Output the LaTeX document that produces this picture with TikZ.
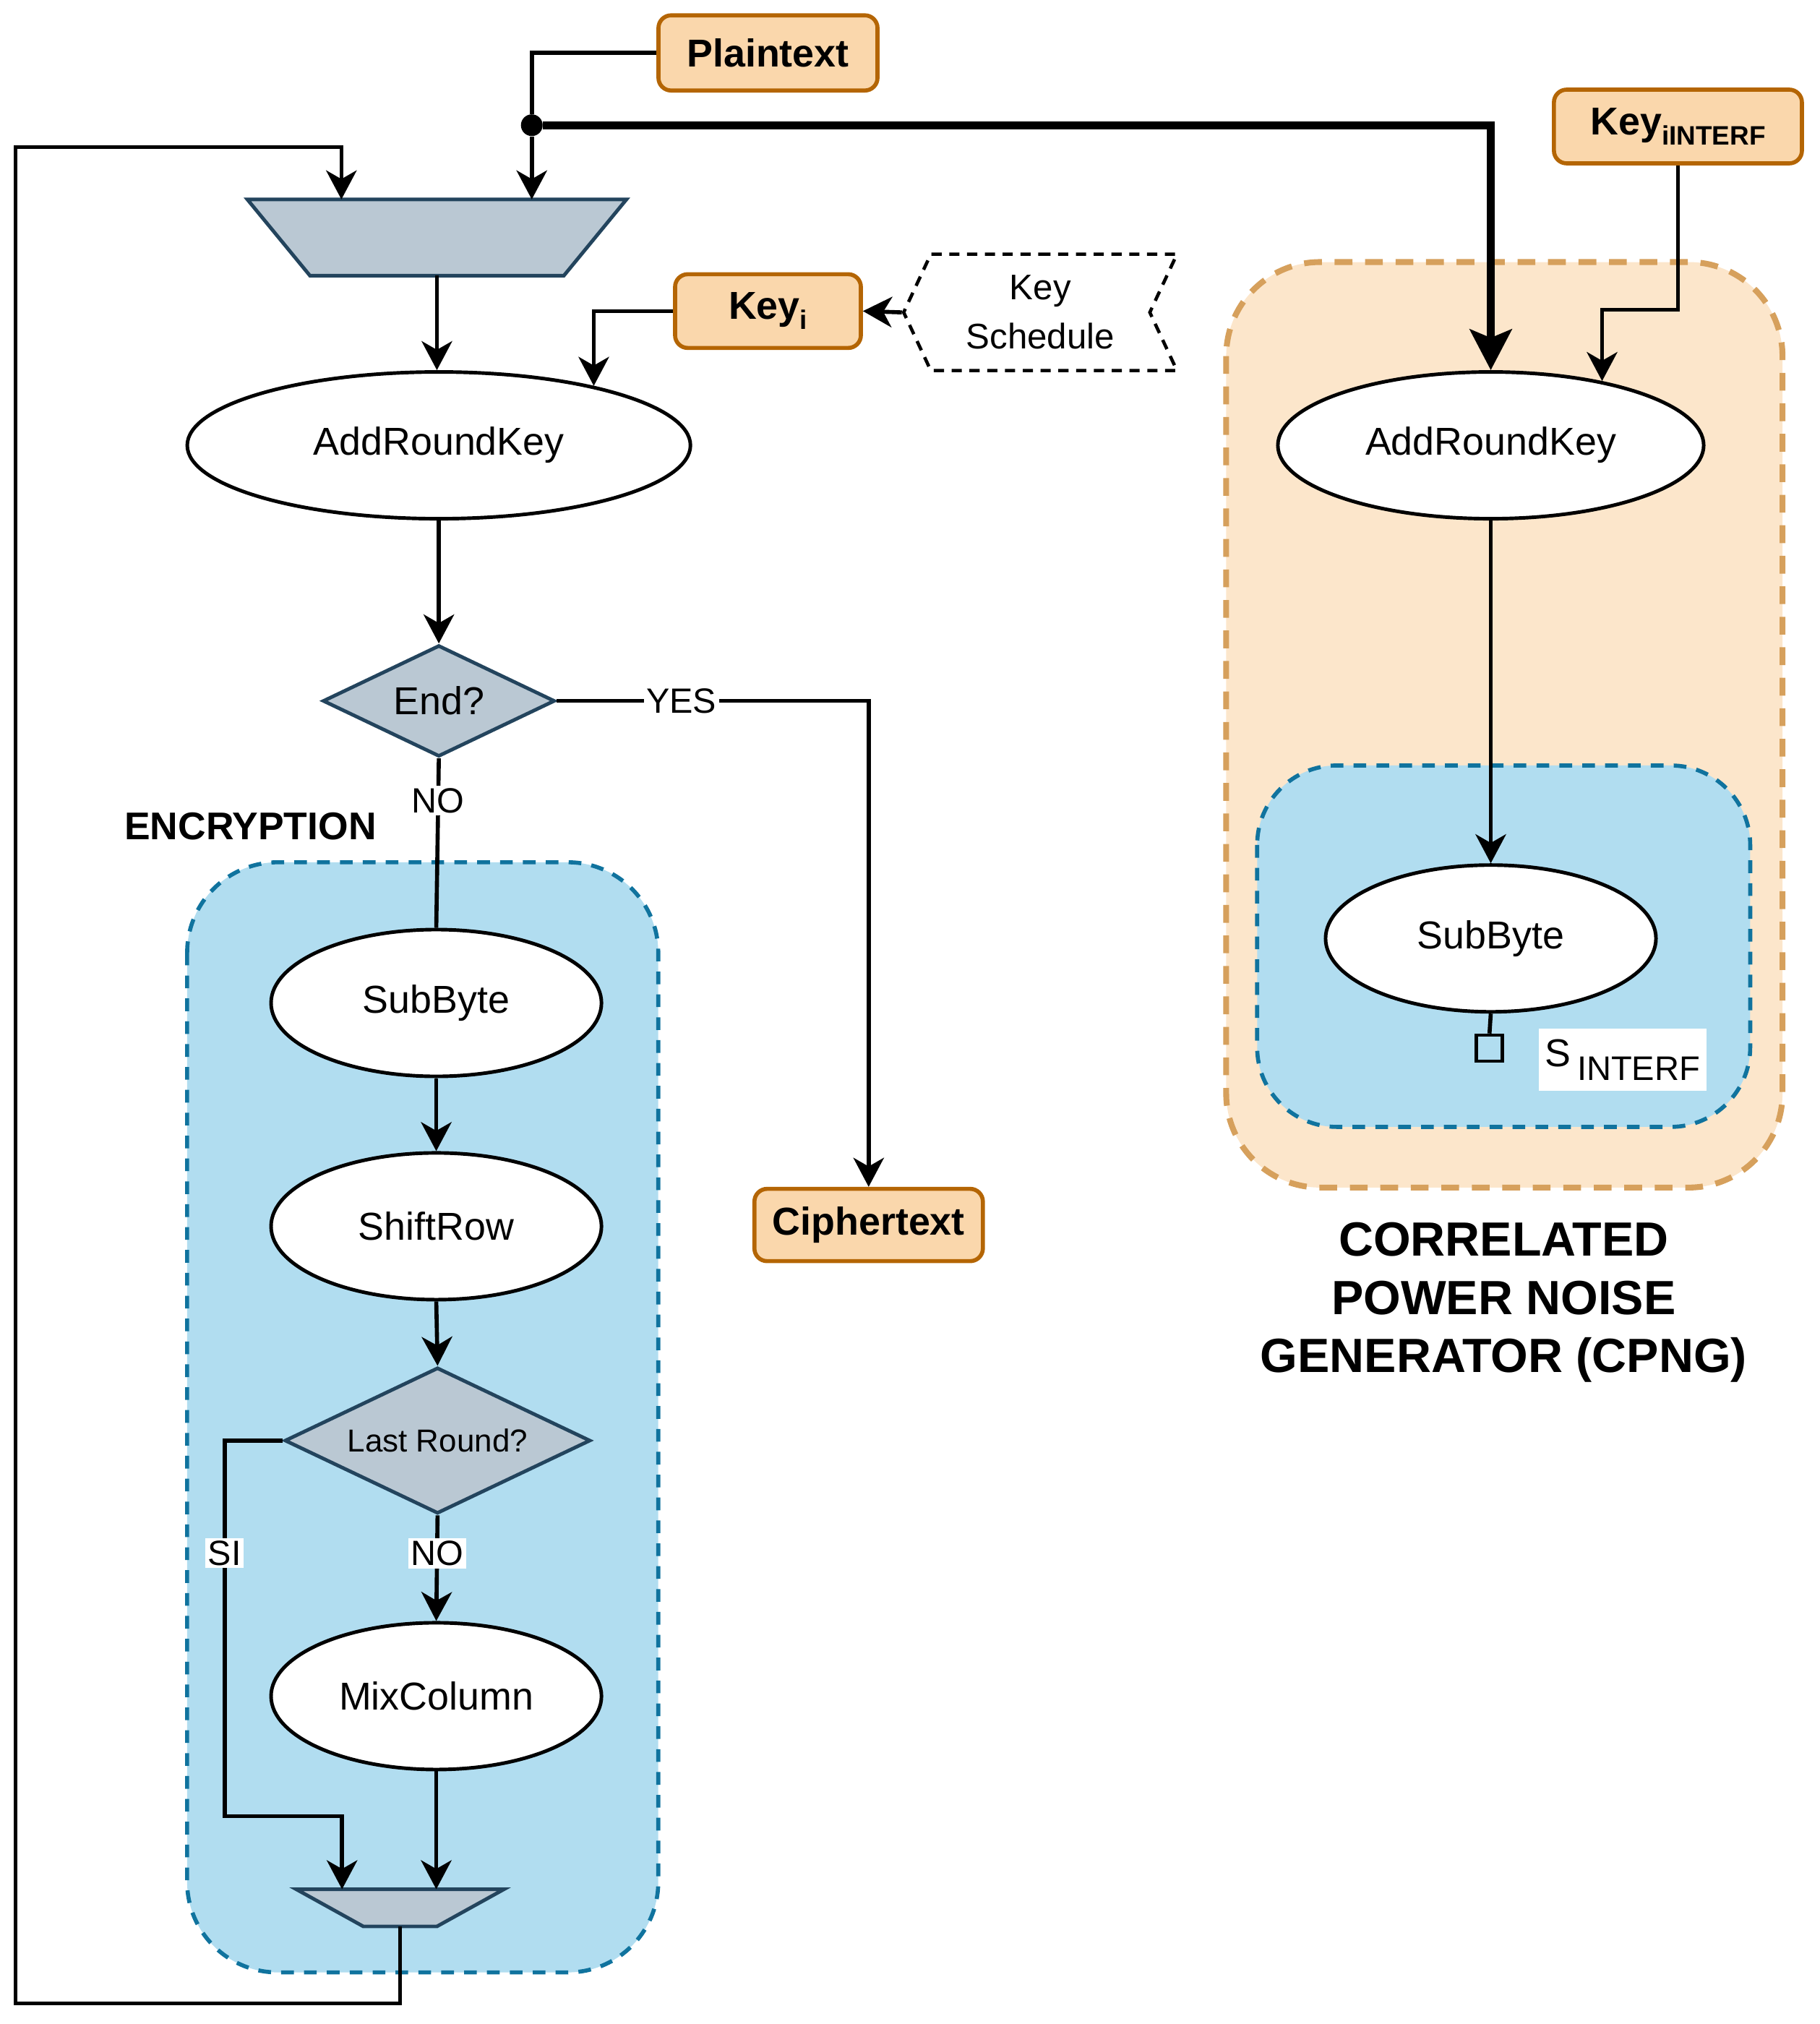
\documentclass[tikz,border=0pt]{standalone}
\usepackage{fontspec}
\setmainfont{Liberation Sans}
\usetikzlibrary{arrows.meta,positioning,shapes.geometric,shapes.symbols,calc}

\definecolor{boxfill}{HTML}{FAD7AC}
\definecolor{boxdraw}{HTML}{B46504}
\definecolor{decfill}{HTML}{BAC8D3}
\definecolor{decdraw}{HTML}{23445D}
\definecolor{encfill}{HTML}{B1DDF0}
\definecolor{encdraw}{HTML}{10739E}
\definecolor{cpngfill}{HTML}{FCE6CB}
\definecolor{cpngdraw}{HTML}{D6A05C}

\tikzset{
  txt/.style={font=\fontsize{15.3}{18}\selectfont},
  op/.style={ellipse, draw, line width=1.4pt, fill=white, inner sep=0pt, txt},
  io/.style={rectangle, rounded corners=5pt, draw=boxdraw, fill=boxfill, line width=1.6pt,
             font=\fontsize{15.3}{18}\selectfont\bfseries, inner sep=0pt},
  test/.style={diamond, aspect=2.1, draw=decdraw, fill=decfill, line width=1.4pt, inner sep=0pt, txt},
  muxbox/.style={rectangle, inner sep=0pt},
  muxshape/.style={draw=decdraw, fill=decfill, line width=1.4pt, line join=miter},
  sched/.style={signal, signal to=west, signal from=east, signal pointer angle=130, draw, line width=1.3pt,
                dash pattern=on 4pt off 3pt, align=center, inner sep=0pt, font=\fontsize{14}{19.3}\selectfont},
  region/.style={draw=encdraw, fill=encfill, line width=1.6pt, dash pattern=on 5pt off 4pt},
  cpng/.style={draw=cpngdraw, fill=cpngfill, line width=2.3pt, dash pattern=on 7pt off 5pt},
  flow/.style={-{Stealth[length=11.4pt,width=12pt,inset=3.4pt]}, line width=1.6pt},
  flowthick/.style={-{Stealth[length=16pt,width=16.4pt,inset=3.3pt]}, line width=3.1pt},
  plain/.style={line width=1.6pt},
  lbl/.style={fill=white, inner sep=1pt, font=\fontsize{13.8}{16}\selectfont},
}

\begin{document}
\begin{tikzpicture}[x=0.01785cm, y=-0.01785cm]
\useasboundingbox (0,0) rectangle (1410,1568);

% containers
\draw[region, rounded corners=1.25cm] (145,668) rectangle (510,1528);
\draw[cpng, rounded corners=1.3cm] (950,203) rectangle (1381,920);
\draw[region, rounded corners=1.1cm] (974,593) rectangle (1356,873);

% encryption side
\node[io, minimum width=3.03cm, minimum height=1.04cm] (plain) at (595,41) {Plaintext};
\node[circle, fill, inner sep=0pt, minimum size=0.3cm] (split) at (412,97) {};
\node[muxbox, minimum width=5.23cm, minimum height=1.04cm] (mux) at (338.5,184) {};
\draw[muxshape] (mux.north west) -- (mux.north east) -- ($(mux.south east)+(-48.5,0)$)
  -- ($(mux.south west)+(48.5,0)$) -- cycle;
\node[op, minimum width=6.96cm, minimum height=2.03cm] (ark) at (340,345) {AddRoundKey};
\node[io, minimum width=2.57cm, minimum height=1.02cm] (keyi) at (595,241)
  {Key\raisebox{-4pt}{\fontsize{10.5}{12}\selectfont i}};
\node[sched, minimum width=3.78cm, minimum height=1.61cm] (ks) at (806,242) {Key\\Schedule};
\node[test, minimum width=3.21cm, minimum height=1.54cm] (endq) at (340,543) {End?};
\node[io, minimum width=3.16cm, minimum height=1cm] (cipher) at (673,949) {Ciphertext};
\node[font=\fontsize{15.2}{18}\selectfont\bfseries] (enclbl) at (194,640) {ENCRYPTION};
\node[op, minimum width=4.57cm, minimum height=2.03cm] (sb) at (338,777) {SubByte};
\node[op, minimum width=4.57cm, minimum height=2.03cm] (sr) at (338,950) {ShiftRow};
\node[test, minimum width=4.23cm, minimum height=2.02cm, font=\fontsize{12.5}{15}\selectfont]
  (lastr) at (339,1116) {Last Round?};
\node[op, minimum width=4.57cm, minimum height=2.03cm] (mc) at (338,1314) {MixColumn};
\node[muxbox, minimum width=2.86cm, minimum height=0.5cm] (merge) at (310,1478) {};
\draw[muxshape] (merge.north west) -- (merge.north east) -- ($(merge.south east)+(-52,0)$)
  -- ($(merge.south west)+(52,0)$) -- cycle;

% noise generator side
\node[io, minimum width=3.43cm, minimum height=1.02cm] (keyint) at (1300,98)
  {Key\raisebox{-4pt}{\fontsize{10.5}{12}\selectfont iINTERF}};
\node[op, minimum width=5.89cm, minimum height=2.03cm] (ark2) at (1155,345) {AddRoundKey};
\node[op, minimum width=4.57cm, minimum height=2.03cm] (sb2) at (1155,727) {SubByte};
\node[draw, line width=1.3pt, minimum size=0.36cm, inner sep=0pt] (port) at (1154,812) {};
\node[fill=white, minimum width=2.32cm, minimum height=0.86cm, inner sep=0pt] (sint) at (1257,821)
  {\fontsize{15.3}{18}\selectfont S\,\raisebox{-5.5pt}{\fontsize{13.4}{16}\selectfont INTERF}};
\node[font=\fontsize{18.9}{22.9}\selectfont\bfseries, align=center] (cpnglbl) at (1165,1009)
  {CORRELATED\\POWER NOISE\\GENERATOR (CPNG)};

\coordinate (loopbl) at (12,1552);
\coordinate (looptl) at (12,114);
\coordinate (sibend) at (174,1407);
\coordinate (kbend) at (1300,240);

% connectors
\draw[plain] (plain.west) -| (split);
\draw[flow] (split) -- (split |- mux.north);
\draw[flowthick] (split) -| (ark2.north);
\draw[flow] (merge.south) |- (loopbl) -- (looptl) -| ($(mux.north)+(-74,0)$);
\draw[flow] (mux.south) -- (mux.south |- ark.north);
\draw[flow] (keyi.west) -| (ark.21);
\draw[flow] (ks.west) -- (keyi.east);
\draw[flow] (ark.south) -- (endq.north);
\draw[flow] (endq.east) -| node[lbl, pos=0.2] {YES} (cipher.north);
\draw[plain] (endq.south) -- node[lbl, pos=0.25] {NO} (sb.north);
\draw[flow] (sb.south) -- (sr.north);
\draw[flow] (sr.south) -- (lastr.north);
\draw[flow] (lastr.south) -- node[lbl, pos=0.36] {NO} (mc.north);
\draw[flow] (lastr.west) -| node[lbl, pos=0.65] {SI} (sibend) -| ($(merge.north)+(-45,0)$);
\draw[flow] (mc.south) -- (mc.south |- merge.north);

\draw[flow] (keyint.south) -- (kbend) -| (ark2.30);
\draw[flow] (ark2.south) -- (sb2.north);
\draw[plain] (sb2.south) -- (port.north);

\end{tikzpicture}
\end{document}
